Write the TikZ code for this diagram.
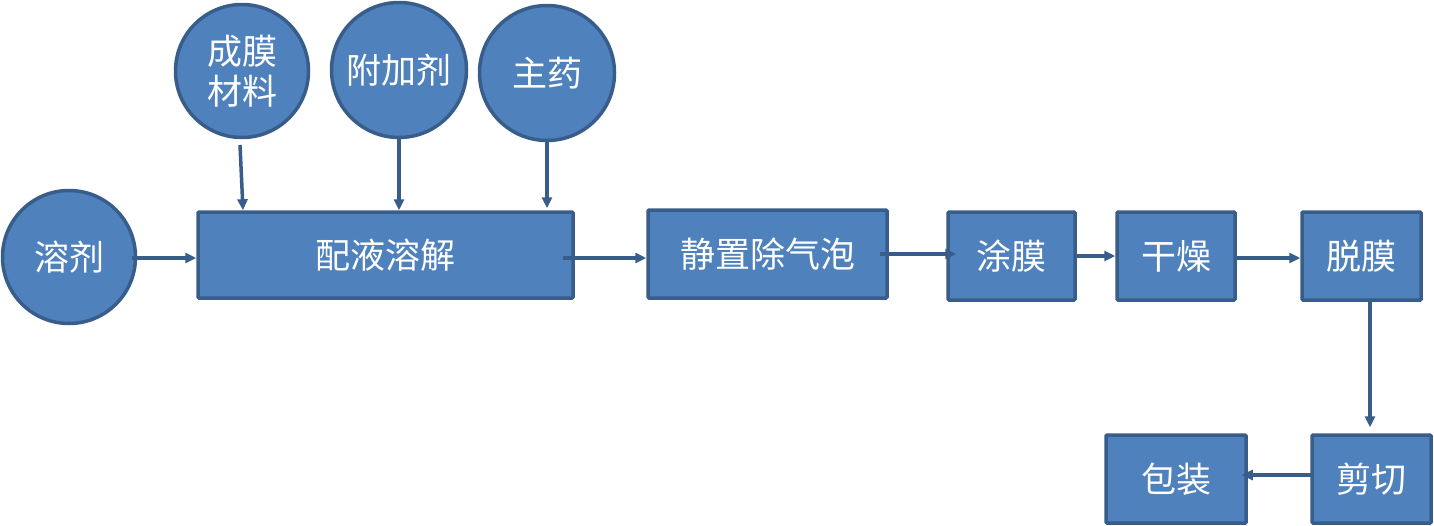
\documentclass[tikz,border=0pt]{standalone}
\usepackage{fontspec}
\setmainfont{Noto Sans CJK SC}
\usetikzlibrary{arrows.meta}
\definecolor{fillb}{HTML}{4F81BD}
\definecolor{edgeb}{HTML}{385D8A}
\tikzset{
  circ/.style={circle, draw=edgeb, fill=fillb, line width=3.5pt, minimum size=#1, inner sep=0pt, text=white, font=\fontsize{35}{40}\selectfont, align=center},
  boxx/.style={rectangle, draw=edgeb, fill=fillb, line width=3.5pt, inner sep=0pt, text=white, font=\fontsize{35}{40}\selectfont, rounded corners=1pt},
  arr/.style={draw=edgeb, line width=3.5pt, -{Triangle[length=11pt,width=10pt]}}
}
\begin{document}
\begin{tikzpicture}[x=1pt,y=-1pt]
\useasboundingbox (0,0) rectangle (1434,525);
% circles
\node[circ=133pt] (rj) at (69,257) {溶剂};
\node[circ=133pt] (cm) at (242,71) {成膜\\材料};
\node[circ=135pt] (fj) at (399,70) {附加剂};
\node[circ=135pt] (zy) at (547,73) {主药};
% boxes
\node[boxx, minimum width=375pt, minimum height=86pt] (py) at (385.5,255) {配液溶解};
\node[boxx, minimum width=239pt, minimum height=88pt] (jz) at (767.5,254) {静置除气泡};
\node[boxx, minimum width=127pt, minimum height=88pt] (tm) at (1011.5,256) {涂膜};
\node[boxx, minimum width=118pt, minimum height=88pt] (gz) at (1176,256) {干燥};
\node[boxx, minimum width=119pt, minimum height=88pt] (tuo) at (1361.5,256) {脱膜};
\node[boxx, minimum width=119pt, minimum height=88pt] (jq) at (1371.5,479) {剪切};
\node[boxx, minimum width=140pt, minimum height=88pt] (bz) at (1176,479) {包装};
% connectors
\coordinate (a1) at (132,258);
\draw[arr] (a1) -- (py.west |- a1);
\coordinate (a0) at (240,145);
\draw[arr] (a0) -- ([xshift=1pt]py.north -| cm.south);
\draw[arr] (fj.south) -- (py.north -| fj.south);
\draw[arr] (zy.south) -- ([yshift=2pt]py.north -| zy.south);
\coordinate (a2) at (563,258);
\draw[arr] (a2) -- (jz.west |- a2);
\coordinate (a3) at (880,254);
\draw[arr] (a3) -- ([xshift=10pt]tm.west |- a3);
\draw[arr] (tm.east) -- (gz.west);
\coordinate (a4) at (1235,258);
\draw[arr] (gz.east |- a4) -- (tuo.west |- a4);
\coordinate (a5) at (1370,300);
\draw[arr] (a5) -- ([yshift=6pt]jq.north -| a5);
\coordinate (a6) at (1312,475);
\draw[arr] (a6) -- ([xshift=-6pt]bz.east |- a6);
\end{tikzpicture}
\end{document}
